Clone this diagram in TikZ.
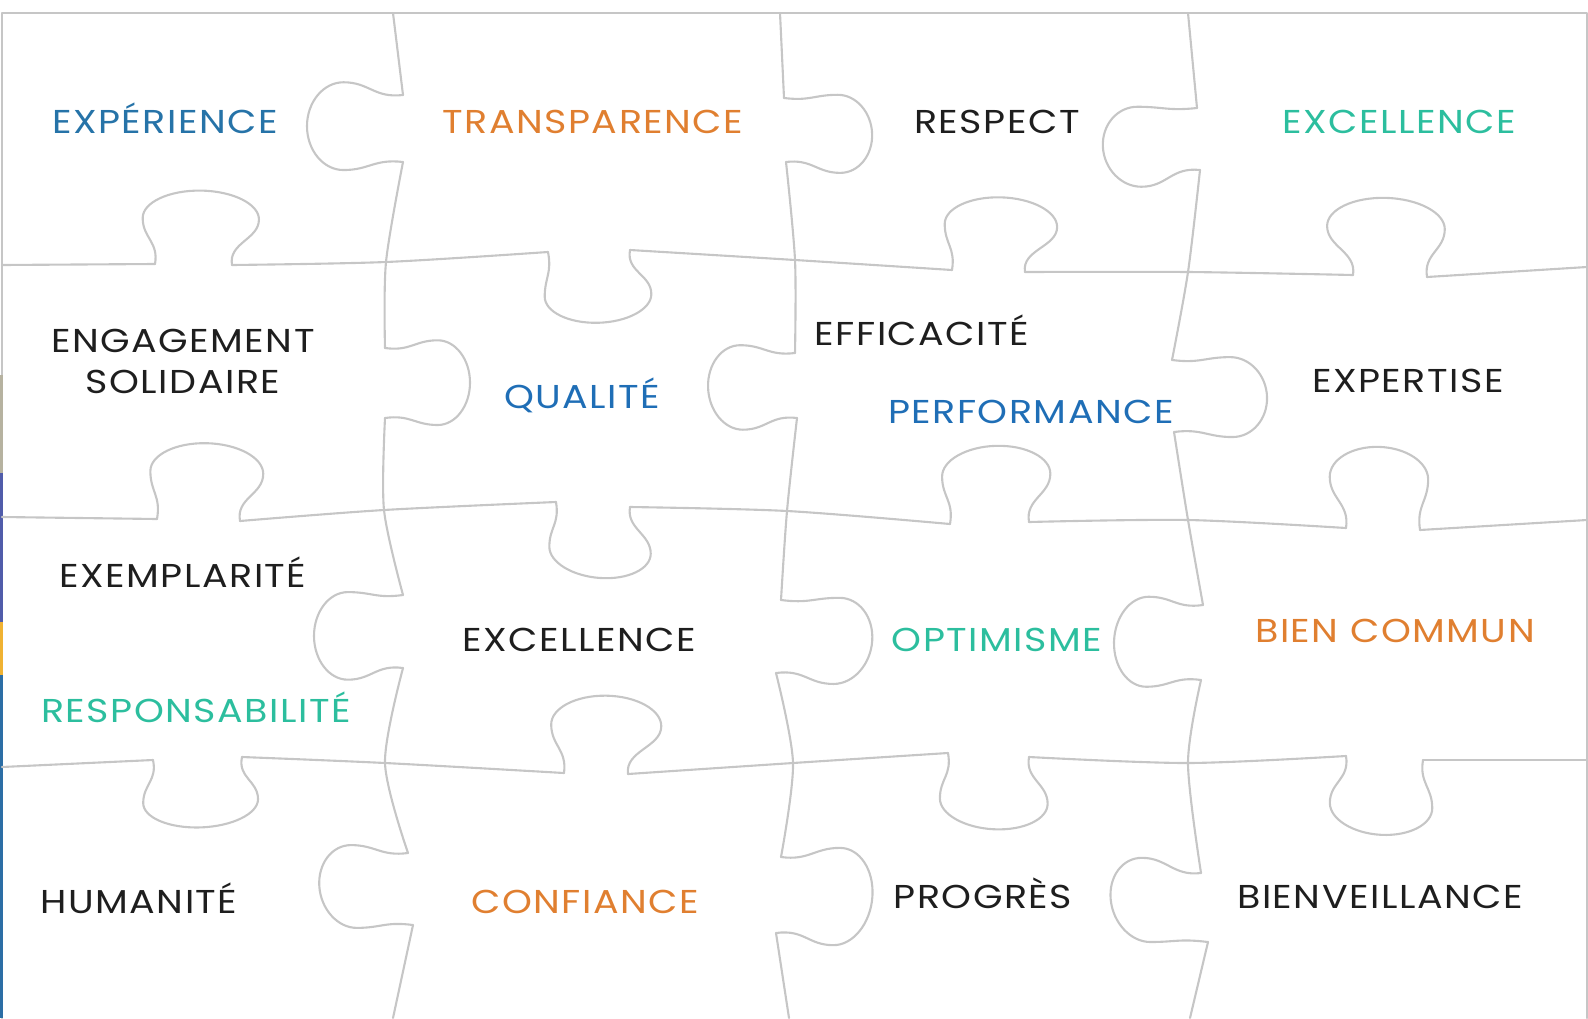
\documentclass[tikz,border=0pt]{standalone}
\usepackage{fontspec}
\setmainfont{Poppins}[FakeStretch=1.15, LetterSpace=4.5]
\definecolor{grey1}{RGB}{198,198,198}
\definecolor{blue1}{RGB}{38,115,168}
\definecolor{blue2}{RGB}{31,110,182}
\definecolor{orange1}{RGB}{224,127,48}
\definecolor{teal1}{RGB}{44,190,158}
\definecolor{dark1}{RGB}{30,30,30}
\definecolor{strip1}{RGB}{182,178,160}
\definecolor{strip2}{RGB}{80,92,170}
\definecolor{strip3}{RGB}{240,178,50}
\definecolor{strip4}{RGB}{44,110,165}
% one knob: neck (#1,#2)--(#3,#4), depth (#5,#6), knob sides #7 and #8
\newcommand{\tab}[8]{%
  \pgfmathsetmacro\ux{0.01*(#3-(#1))}%
  \pgfmathsetmacro\uy{-0.01*(#4-(#2))}%
  \pgfmathsetmacro\vx{0.01*(#5)}%
  \pgfmathsetmacro\vy{-0.01*(#6)}%
  \pgfmathsetmacro\km{(#7+#8)/2}%
  \pgfmathsetmacro\ks{0.275*(#8-(#7))}%
  \draw[cut, shift={(#1,#2)}, x={(\ux cm,\uy cm)}, y={(\vx cm,\vy cm)}]
    (0,0) .. controls (0.05,0.3) and (#7,0.35) .. (#7,0.62)
    .. controls (#7,0.83) and (\km-\ks,1) .. (\km,1)
    .. controls (\km+\ks,1) and (#8,0.83) .. (#8,0.62)
    .. controls (#8,0.35) and (0.95,0.3) .. (1,0);
}

\begin{document}
\begin{tikzpicture}[x=0.01cm, y=-0.01cm,
  cut/.style={draw=grey1, line width=0.6pt, line cap=round, line join=round},
  word/.style={inner sep=0pt, anchor=base, font=\fontsize{9.4}{11.6}\selectfont}]
\useasboundingbox (0,0) rectangle (1588,1018);

% frame
\draw[cut] (2,1018) -- (2,13) -- (1587,13) -- (1587,1018);
\fill[strip1] (0,375) rectangle (2.5,473);
\fill[strip2] (0,473) rectangle (2.5,622);
\fill[strip3] (0,622) rectangle (2.5,675);
\fill[strip4] (0,675) rectangle (2.5,1018);

% horizontal cuts
\draw[cut] (2,265) -- (155,264);
\draw[cut] plot[smooth] coordinates {(232,265) (386,262) (548,252)};
\draw[cut] plot[smooth] coordinates {(630,250) (795,260) (952,270)};
\draw[cut] plot[smooth] coordinates {(1025,272) (1188,272) (1353,275)};
\draw[cut] (1427,277) -- (1587,267);

\draw[cut] (2,517) -- (157,519);
\draw[cut] plot[smooth] coordinates {(240,521) (384,510) (556,502)};
\draw[cut] plot[smooth] coordinates {(630,507) (787,511) (950,524)};
\draw[cut] plot[smooth] coordinates {(1029,522) (1188,520) (1346,528)};
\draw[cut] (1420,530) -- (1587,520);

\draw[cut] (2,767) -- (153,760);
\draw[cut] plot[smooth] coordinates {(242,757) (385,763) (564,773)};
\draw[cut] plot[smooth] coordinates {(628,774) (793,763) (948,753)};
\draw[cut] plot[smooth] coordinates {(1029,757) (1188,763) (1346,756)};
\draw[cut] (1423,760) -- (1587,760);

% vertical cuts
\draw[cut] (393,13) -- (403,95);
\draw[cut] plot[smooth] coordinates {(403,162) (386,262) (385,348)};
\draw[cut] plot[smooth] coordinates {(385,418) (384,510) (403,595)};
\draw[cut] plot[smooth] coordinates {(403,668) (385,763) (408,853)};
\draw[cut] (413,925) -- (393,1018);

\draw[cut] (780,13) -- (784,98);
\draw[cut] plot[smooth] coordinates {(786,162) (795,260) (795,353)};
\draw[cut] plot[smooth] coordinates {(797,418) (787,511) (781,600)};
\draw[cut] plot[smooth] coordinates {(776,673) (793,763) (781,857)};
\draw[cut] (776,933) -- (789,1018);

\draw[cut] (1188,13) -- (1197,108);
\draw[cut] plot[smooth] coordinates {(1200,170) (1188,272) (1172,360)};
\draw[cut] plot[smooth] coordinates {(1174,432) (1188,520) (1203,605)};
\draw[cut] plot[smooth] coordinates {(1201,680) (1188,763) (1201,873)};
\draw[cut] (1208,942) -- (1190,1018);

% knobs
\foreach \ax/\ay/\bx/\by/\dx/\dy/\kl/\kr in {
  403/95/403/162/-96/0/-0.19/1.12, 784/98/786/162/87/0/-0.05/1.17,
  1197/108/1200/170/-96/0/-0.02/1.27, 385/348/385/418/85/0/-0.11/1.1,
  795/353/797/418/-88/0/-0.12/1.18, 1172/360/1174/432/94/0/-0.04/1.07,
  403/595/403/668/-89/0/-0.04/1.16, 781/600/776/673/94/0/-0.03/1.15,
  1203/605/1201/680/-88/0/-0.11/1.09, 408/853/413/925/-91/0/-0.11/1.04,
  781/857/776/933/94/0/-0.12/1.16, 1201/873/1208/942/-93/0/-0.22/1.0,
  155/264/232/265/0/-74/-0.16/1.35, 548/252/630/250/0/72/-0.04/1.26,
  952/270/1025/272/0/-74/-0.1/1.44, 1353/275/1427/277/0/-78/-0.35/1.24,
  157/519/240/521/0/-77/-0.08/1.28, 556/502/630/507/0/73/-0.09/1.28,
  950/524/1029/522/0/-77/-0.1/1.27, 1346/528/1420/530/0/-82/-0.22/1.11,
  153/760/242/757/0/69/-0.11/1.18, 564/773/628/774/0/-78/-0.2/1.52,
  948/753/1029/757/0/74/-0.1/1.23, 1346/756/1423/760/0/77/-0.21/1.12}
  \tab{\ax}{\ay}{\bx}{\by}{\dx}{\dy}{\kl}{\kr};

% words
\node[word, text=blue1] (experience) at (165,133) {EXPÉRIENCE};
\node[word, text=orange1] (transparence) at (593,133) {TRANSPARENCE};
\node[word, text=dark1] (respect) at (997,133) {RESPECT};
\node[word, text=teal1] (excellence1) at (1399,133) {EXCELLENCE};
\node[word, text=dark1, align=center] (engagement) at (183,393) {ENGAGEMENT\\SOLIDAIRE};
\node[word, text=blue2] (qualite) at (582,408) {QUALITÉ};
\node[word, text=dark1] (efficacite) at (922,345) {EFFICACITÉ};
\node[word, text=blue2] (performance) at (1031,423) {PERFORMANCE};
\node[word, text=dark1] (expertise) at (1408,392) {EXPERTISE};
\node[word, text=dark1] (exemplarite) at (183,587) {EXEMPLARITÉ};
\node[word, text=teal1] (responsabilite) at (196,722) {RESPONSABILITÉ};
\node[word, text=dark1] (excellence2) at (579,651) {EXCELLENCE};
\node[word, text=teal1] (optimisme) at (997,651) {OPTIMISME};
\node[word, text=orange1] (biencommun) at (1395,642) {BIEN COMMUN};
\node[word, text=dark1] (humanite) at (139,913) {HUMANITÉ};
\node[word, text=orange1] (confiance) at (585,913) {CONFIANCE};
\node[word, text=dark1] (progres) at (983,908) {PROGRÈS};
\node[word, text=dark1] (bienveillance) at (1380,908) {BIENVEILLANCE};
\end{tikzpicture}
\end{document}
